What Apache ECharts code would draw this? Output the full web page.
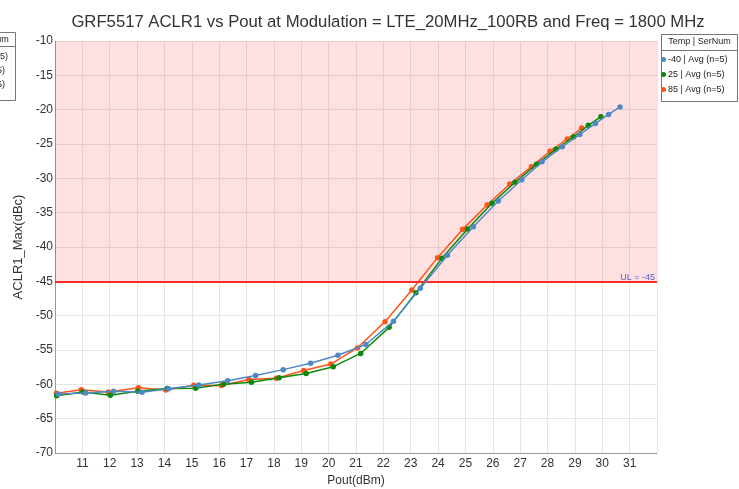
<!DOCTYPE html>
<html>
<head>
<meta charset="utf-8">
<script src="https://cdn.jsdelivr.net/npm/echarts@6/dist/echarts.min.js"></script>
<style>html,body{margin:0;padding:0;background:#fff}#c{width:739px;height:489px}</style>
</head>
<body>
<div id="c"></div>
<script>
const titleText = 'GRF5517 ACLR1 vs Pout at Modulation = LTE_20MHz_100RB and Freq = 1800 MHz';
const xName = 'Pout(dBm)';
const yName = 'ACLR1_Max(dBc)';
const legendHeader = 'Temp | SerNum';
const seriesNames = ['-40 | Avg (n=5)', '25 | Avg (n=5)', '85 | Avg (n=5)'];
const seriesColors = ['#4f88c6', '#0a8a0a', '#ff5319'];
const limitValue = -45;
const limitLabel = 'UL = -45';

const pout40 = [10.12,11.12,12.14,13.18,14.15,15.25,16.31,17.33,18.34,19.34,20.34,21.36,22.37,23.35,24.34,25.29,26.2,27.06,27.8,28.54,29.18,29.75,30.23,30.65];
const aclr40 = [-61.4,-61.25,-61.0,-61.15,-60.65,-60.1,-59.47,-58.7,-57.86,-56.94,-55.77,-54.2,-50.8,-46.0,-41.2,-37.05,-33.3,-30.2,-27.6,-25.4,-23.6,-22.0,-20.7,-19.6];

const pout25 = [10.06,11.02,12.02,13.02,14.1,15.14,16.16,17.18,18.19,19.18,20.17,21.17,22.21,23.19,24.14,25.08,25.97,26.81,27.6,28.3,28.94,29.49,29.95];
const aclr25 = [-61.65,-61.1,-61.58,-61.0,-60.6,-60.58,-59.97,-59.68,-59.05,-58.42,-57.43,-55.5,-51.7,-46.65,-41.65,-37.38,-33.64,-30.58,-27.96,-25.77,-23.98,-22.28,-21.02];

const pout85 = [10.05,10.96,11.95,13.05,14.05,15.07,16.08,17.08,18.09,19.09,20.08,21.05,22.06,23.04,23.98,24.9,25.79,26.62,27.41,28.09,28.72,29.25];
const aclr85 = [-61.3,-60.8,-61.13,-60.5,-60.84,-60.14,-60.16,-59.3,-59.12,-57.98,-57.05,-54.7,-50.87,-46.26,-41.55,-37.43,-33.88,-30.82,-28.3,-26.05,-24.27,-22.67];

const pouts = [pout40, pout25, pout85];
const aclrs = [aclr40, aclr25, aclr85];

const font = '"Liberation Sans", Arial, sans-serif';
const chart = echarts.init(document.getElementById('c'), null, {renderer: 'canvas'});

const series = seriesNames.map((name, i) => ({
  name: name,
  type: 'line',
  data: pouts[i].map((x, k) => [x, aclrs[i][k]]),
  symbol: 'circle',
  symbolSize: 5.5,
  color: seriesColors[i],
  lineStyle: {width: 1.5, color: seriesColors[i]},
  itemStyle: {color: seriesColors[i]},
  z: 3 + (2 - i),
  animation: false
}));

series.push({
  name: 'limit',
  type: 'line',
  data: [],
  markArea: {
    silent: true,
    itemStyle: {color: 'rgba(255,0,0,0.12)'},
    data: [[{yAxis: -10}, {yAxis: limitValue}]]
  },
  markLine: {
    silent: true,
    symbol: 'none',
    lineStyle: {color: '#ff2a2a', width: 2, type: 'solid'},
    label: {position: 'insideEndTop', formatter: limitLabel, color: '#5a5ad2', fontSize: 9, fontFamily: font, distance: [2, -1]},
    data: [{yAxis: limitValue}]
  },
  z: 2
});

chart.setOption({
  animation: false,
  title: {
    text: titleText, left: 383, top: 9, textAlign: 'center',
    textStyle: {fontFamily: font, fontSize: 16.7, fontWeight: 'normal', color: '#333'}
  },
  grid: {left: 55, right: 82, top: 41, bottom: 36, containLabel: false, outerBoundsMode: 'none'},
  legend: {
    show: true, orient: 'vertical', left: 661, top: 55,
    data: seriesNames, icon: 'circle', itemWidth: 5, itemHeight: 5, itemGap: 6,
    textStyle: {fontFamily: font, fontSize: 9, color: '#222', padding: [0, 0, 0, -3]},
    padding: 0
  },
  graphic: [
    {
      type: 'group', left: 659, top: 34,
      children: [
        {type: 'rect', shape: {x: 0, y: 0, width: 76, height: 67}, style: {fill: '#fff', stroke: '#777', lineWidth: 1}},
        {type: 'line', shape: {x1: 0, y1: 16, x2: 76, y2: 16}, style: {stroke: '#777', lineWidth: 1}},
        {type: 'text', x: 38, y: 3, style: {text: legendHeader, fill: '#222', font: '9px ' + font, align: 'center'}}
      ]
    },
    {
      type: 'group', left: -63, top: 32,
      children: [
        {type: 'rect', shape: {x: 0, y: 0, width: 76, height: 68}, style: {fill: '#fff', stroke: '#777', lineWidth: 1}},
        {type: 'line', shape: {x1: 0, y1: 14, x2: 76, y2: 14}, style: {stroke: '#777', lineWidth: 1}},
        {type: 'text', x: 38, y: 3, style: {text: legendHeader, fill: '#222', font: '9px ' + font, align: 'center'}},
        {type: 'text', x: 9, y: 20, style: {text: seriesNames[0], fill: '#222', font: '9px ' + font}},
        {type: 'text', x: 9, y: 34, style: {text: seriesNames[1], fill: '#222', font: '9px ' + font}},
        {type: 'text', x: 9, y: 48, style: {text: seriesNames[2], fill: '#222', font: '9px ' + font}}
      ]
    }
  ],
  xAxis: {
    type: 'value', min: 10, max: 32, interval: 1,
    name: xName, nameLocation: 'middle', nameGap: 20,
    nameTextStyle: {fontFamily: font, fontSize: 12, color: '#333'},
    axisLine: {show: true, lineStyle: {color: '#999', width: 1}},
    axisTick: {show: false},
    axisLabel: {showMinLabel: false, showMaxLabel: false, fontFamily: font, fontSize: 12, color: '#333', margin: 5},
    splitLine: {show: true, lineStyle: {color: '#e6e6e6', width: 1}}
  },
  yAxis: {
    type: 'value', min: -70, max: -10, interval: 5,
    name: yName, nameLocation: 'middle', nameGap: 28,
    nameTextStyle: {fontFamily: font, fontSize: 13, color: '#333'},
    axisLine: {show: true, lineStyle: {color: '#999', width: 1}},
    axisTick: {show: false},
    axisLabel: {fontFamily: font, fontSize: 12, color: '#333', margin: 2},
    splitLine: {show: true, lineStyle: {color: '#e6e6e6', width: 1}}
  },
  series: series
});
</script>
</body>
</html>
